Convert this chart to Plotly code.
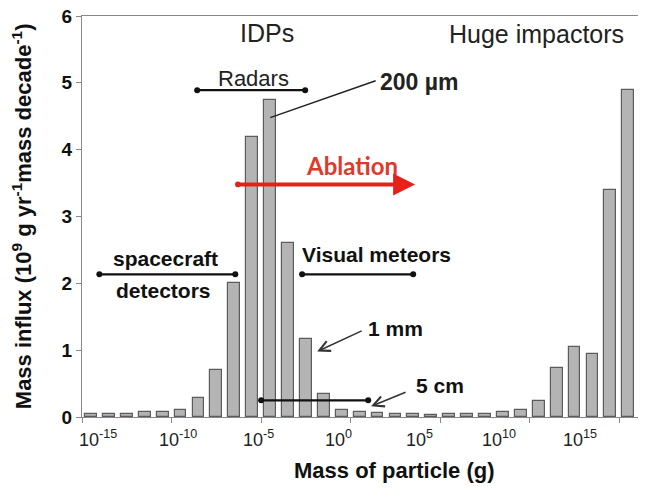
import plotly.graph_objects as go

# Bar centres, in log10(mass / g) (one bar per decade)
log_mass = [-14.5, -13.5, -12.5, -11.5, -10.5, -9.5, -8.5, -7.5, -6.5, -5.5,
            -4.5, -3.5, -2.5, -1.5, -0.5, 0.5, 1.5, 2.5, 3.5, 4.5,
            5.5, 6.5, 7.5, 8.5, 9.5, 10.5, 11.5, 12.5, 13.5, 14.5, 15.5]
# Mass influx (10^9 g / yr / mass decade)
influx = [0.05, 0.05, 0.05, 0.08, 0.08, 0.10, 0.29, 0.70, 2.00, 4.19,
          4.75, 2.61, 1.17, 0.34, 0.10, 0.08, 0.06, 0.05, 0.05, 0.03,
          0.05, 0.05, 0.05, 0.08, 0.10, 0.24, 0.74, 1.04, 0.94, 3.40, 4.90]

tick_exponents = [-15, -10, -5, 0, 5, 10, 15]
tick_labels = [f"10<sup>{e}</sup>" for e in tick_exponents]
y_ticks = [0, 1, 2, 3, 4, 5, 6]
y_tick_labels = [f"<b>{v}</b>" for v in y_ticks]

# Range bars (x start, x end, y) in axis units
range_bars = {
    "Radars": (-8.57, -2.54, 4.89),
    "spacecraft": (-14.03, -6.44, 2.135),
    "Visual meteors": (-2.71, 3.49, 2.135),
    "5 cm": (-5.0, 0.98, 0.25),
}

FONT = "Liberation Sans, Arial, sans-serif"

# page body has an 8px margin; plot area spans window px x 82..639, y 15.7..416.7
W, H = 638, 490
ML, MR, MT, MB = 74, 7, 8, 81
PW, PH = W - ML - MR, H - MT - MB


def px_to_paper(X, Y):
    return (X - 8 - ML) / PW, (H - MB - (Y - 8)) / PH


fig = go.Figure()
fig.add_trace(go.Bar(
    x=log_mass, y=influx, width=0.66,
    marker=dict(color="#b4b4b4", line=dict(color="#5c5c5c", width=1.2)),
    showlegend=False, hoverinfo="skip",
))

for name, (x0, x1, yv) in range_bars.items():
    fig.add_trace(go.Scatter(
        x=[x0, x1], y=[yv, yv], mode="lines+markers",
        line=dict(color="#111111", width=2.2),
        marker=dict(color="#111111", size=6),
        showlegend=False, hoverinfo="skip",
    ))

texts = [
    # text, x, y, size, bold, color, xanchor
    ("IDPs", -4.66, 5.74, 25, False, "#222222", "center"),
    ("Huge impactors", 15.4, 5.73, 25, False, "#222222", "right"),
    ("Radars", -5.44, 5.06, 22, False, "#222222", "center"),
    ("200 µm", 1.55, 5.01, 23, True, "#222222", "left"),
    ("spacecraft", -10.35, 2.375, 21, True, "#111111", "center"),
    ("detectors", -10.46, 1.90, 21, True, "#111111", "center"),
    ("Visual meteors", -2.85, 2.43, 21, True, "#111111", "left"),
    ("1 mm", 0.85, 1.33, 21, True, "#111111", "left"),
    ("5 cm", 3.55, 0.475, 21, True, "#111111", "left"),
]
for t, x, y, s, b, c, xa in texts:
    fig.add_annotation(x=x, y=y, text=f"<b>{t}</b>" if b else t, showarrow=False,
                       xanchor=xa, yanchor="middle",
                       font=dict(family=FONT, size=s, color=c))

# Ablation label and arrow
fig.add_annotation(x=0.08, y=3.77, text="<b>Ablation</b>", showarrow=False,
                   font=dict(family="Lato, Liberation Sans, sans-serif", size=24, color="#e0392b"))
fig.add_annotation(x=3.6, y=3.48, ax=-6.38, ay=3.48, axref="x", ayref="y",
                   text="", showarrow=True, arrowhead=2, arrowsize=1.1, arrowwidth=4,
                   arrowcolor="#e8201a", arrowside="end+start", startarrowhead=6,
                   startarrowsize=0.35)

# 200 µm leader line
fig.add_annotation(x=-4.49, y=4.48, ax=1.48, ay=5.04, axref="x", ayref="y",
                   text="", showarrow=True, arrowhead=0, arrowwidth=1.5, arrowcolor="#222222")
# 1 mm arrow
fig.add_annotation(x=-1.87, y=0.98, ax=0.70, ay=1.30, axref="x", ayref="y",
                   text="", showarrow=True, arrowhead=5, arrowsize=1.4, arrowwidth=1.5,
                   arrowcolor="#333333")
# 5 cm arrow
fig.add_annotation(x=1.14, y=0.16, ax=3.15, ay=0.38, axref="x", ayref="y",
                   text="", showarrow=True, arrowhead=5, arrowsize=1.4, arrowwidth=1.5,
                   arrowcolor="#333333")

# x tick labels (evenly spaced under the axis, as in the reference)
for i, lab in enumerate(tick_labels):
    px, py = px_to_paper(98 + 80.3 * i, 438)
    fig.add_annotation(xref="paper", yref="paper", x=px, y=py, text=lab, showarrow=False,
                       xanchor="center", yanchor="middle",
                       font=dict(family=FONT, size=18, color="#222222"))

# Axis titles
tx, ty = px_to_paper(394, 470)
fig.add_annotation(xref="paper", yref="paper", x=tx, y=ty,
                   text="<b>Mass of particle (g)</b>", showarrow=False,
                   xanchor="center", yanchor="middle",
                   font=dict(family=FONT, size=22, color="#111111"))
yx, yy = px_to_paper(22, 216.2)
fig.add_annotation(xref="paper", yref="paper", x=yx, y=yy,
                   text="<b>Mass influx (10<sup>9</sup> g yr<sup>-1</sup>mass decade<sup>-1</sup>)</b>",
                   showarrow=False, textangle=-90, xanchor="center", yanchor="middle",
                   font=dict(family=FONT, size=22, color="#111111"))

fig.update_layout(
    width=W, height=H,
    margin=dict(l=ML, r=MR, t=MT, b=MB),
    plot_bgcolor="white", paper_bgcolor="white",
    font=dict(family=FONT, color="#111111"),
    bargap=0,
)
fig.update_xaxes(
    range=[-15, 16.1], tickmode="array", tickvals=tick_exponents,
    ticktext=[""] * len(tick_exponents),
    ticks="outside", ticklen=5, tickcolor="#888888", showline=True, linecolor="#888888",
    linewidth=1.2, mirror=True, showgrid=False, zeroline=False, automargin=False,
)
fig.update_yaxes(
    range=[0, 6.0001], tickmode="array", tickvals=y_ticks, ticktext=y_tick_labels,
    ticks="outside", ticklen=5, tickcolor="#888888", ticklabeloverflow="allow",
    showline=True, linecolor="#888888", linewidth=1.2, mirror=True, showgrid=False,
    zeroline=False, automargin=False,
    tickfont=dict(family=FONT, size=19, color="#111111"),
)

fig.write_html("out.html")
